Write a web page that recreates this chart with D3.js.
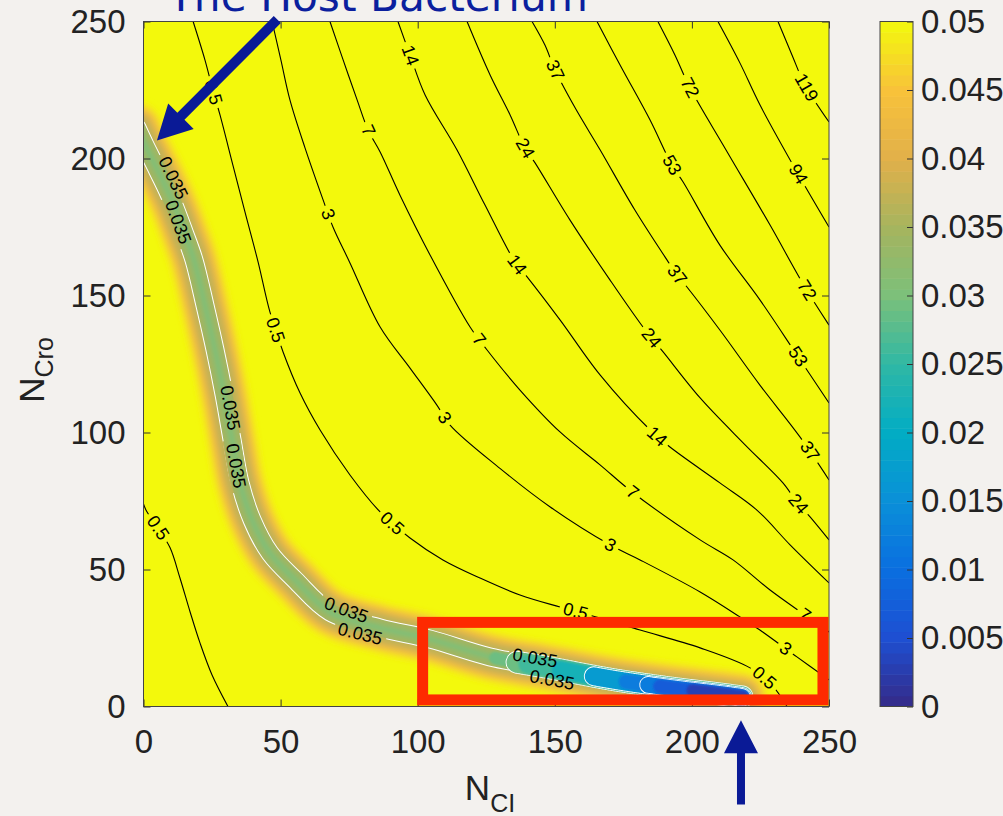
<!DOCTYPE html>
<html lang="en">
<head>
<meta charset="UTF-8">
<title>Landscape N_CI / N_Cro</title>
<style>
  body { margin: 0; background: #f3f1ee; }
  svg { display: block; font-family: "Liberation Sans", Arial, Helvetica, sans-serif; }
  .axis text { font-size: 33px; fill: #222; }
  .axis line { stroke: #333; }
  .axis path { display: none; }
  .clabel { font-size: 18px; fill: #000; }
</style>
</head>
<body>
<svg id="chart" width="1003" height="816"></svg>
<script src="https://d3js.org/d3.v7.min.js"></script>
<script>
// ---- data (data units) ----
const xTicks = [0, 50, 100, 150, 200, 250];
const yTicks = [0, 50, 100, 150, 200, 250];
const cbarTicks = [0, 0.005, 0.01, 0.015, 0.02, 0.025, 0.03, 0.035, 0.04, 0.045, 0.05];
const cbarLabels = ["0", "0.005", "0.01", "0.015", "0.02", "0.025", "0.03", "0.035", "0.04", "0.045", "0.05"];

// colormap as seen on the colour bar
const parulaDomain = [0, 0.005, 0.01, 0.015, 0.02, 0.025, 0.03, 0.035, 0.04, 0.045, 0.05];
const parulaStops = ["#352a87", "#1e4fd2", "#0a6ee0", "#0a90d8", "#02acc4", "#30b8a4",
                     "#7cc07a", "#a6b45e", "#e2b04a", "#f8c23a", "#f3f90c"];

// black contour lines of the landscape
const contourLevels = ["0.5", "3", "7", "14", "24", "37", "53", "72", "94", "119", "0.5"];
const contourLines = [
  [[18.1,250],[22.4,236.0],[25.3,225.0],[27.9,215.9],[32.6,197.6],[37.0,180.5],[41.8,162.2],[46.1,144.0],[50.9,129.4],[57.1,114.4],[64.4,100.9],[75.3,84.5],[86.3,71.0],[97.2,61.5],[109.2,53.5],[122.7,46.9],[137.3,40.7],[151.9,36.3],[166.5,32.3],[181.1,27.9],[203.0,21.4],[221.2,14.1],[229.2,7.8],[234.7,0]],
  [[46.9,250],[50.1,236.0],[53.4,221.4],[58.9,203.9],[65.5,184.9],[69.1,175.0],[75.3,161.9],[86.3,138.5],[97.2,123.5],[107.0,110.0],[111.8,102.7],[130.0,86.9],[148.2,72.9],[170.1,59.0],[181.1,53.5],[203.0,41.8],[217.5,32.7],[224.8,27.9],[238.3,18.1],[250,9.7]],
  [[68.0,250],[72.8,236.0],[77.9,221.4],[81.9,210.4],[86.3,202.4],[93.5,186.7],[104.5,164.8],[119.1,138.5],[125.3,130.1],[137.3,115.5],[151.9,100.2],[166.5,88.2],[178.2,78.3],[203.0,60.8],[215.0,53.5],[228.5,42.5],[241.2,33.4],[250,27.2]],
  [[92.8,250],[97.2,237.8],[102.7,223.2],[114.3,203.2],[124.5,183.1],[135.5,162.2],[139.9,156.8],[151.9,141.1],[166.5,121.0],[184.7,101.0],[192.0,94.7],[210.2,81.6],[223.7,71.7],[235.8,59.0],[250,45.1]],
  [[118.0,250],[126.4,230.5],[133.7,215.9],[139.1,203.9],[142.8,198.4],[155.5,177.6],[170.1,155.7],[182.9,137.5],[189.5,129.4],[203.0,112.6],[219.4,95.5],[233.2,81.6],[238.3,74.6],[243.1,69.2],[250,60.8]],
  [[141.7,250],[146.4,241.4],[150.1,232.3],[157.4,218.5],[166.5,203.2],[179.2,181.2],[190.9,163.0],[194.6,157.5],[198.2,153.1],[210.2,137.4],[224.8,117.3],[239.4,98.4],[250,82.7]],
  [[165.4,250],[173.8,234.1],[184.7,214.1],[192.7,197.6],[196.8,191.4],[210.2,168.4],[224.8,148.4],[238.3,128.3],[250,110.8]],
  [[187.6,250],[193.8,237.8],[199.3,225.8],[212.4,203.2],[228.5,175.7],[241.2,153.1],[250,139.2]],
  [[209.5,250],[217.5,234.9],[224.8,219.6],[238.3,195.1],[250,175.0]],
  [[231.4,250],[236.5,237.8],[241.2,226.9],[250,213.3]],
  [[-1.3,78.3],[0.9,71.7],[5.3,65.2],[9.7,57.9],[13.3,46.9],[17.0,34.5],[20.6,23.2],[25.0,11.5],[30.8,0]]
];
const contourLabelAt = [
  [[25.0,224.3],[48.0,137.5],[90.6,67.0],[157.4,34.5],[225.6,9.7]],
  [[68.0,180.1],[109.2,105.3],[170.1,59.0],[234.7,21.4]],
  [[81.9,210.4],[122.0,133.8],[178.2,78.3],[241.2,33.4]],
  [[97.2,237.8],[135.5,160.4],[187.3,98.4]],
  [[139.1,203.9],[184.7,133.8],[238.3,73.6]],
  [[150.1,232.3],[192.7,156.4],[243.1,93.6]],
  [[192.7,197.6],[238.3,127.2]],
  [[199.3,225.8],[241.9,152.0]],
  [[238.3,194.0]],
  [[241.2,225.8]],
  [[5.3,65.5]]
];

// valley floor (centre of the low band) and its 0.035 labels
const valleyLine = [[-2.4,211.2],[0.5,205.0],[4.2,197.6],[7.8,190.3],[11.1,183.0],[14.8,173.2],[18.4,163.0],[22.4,146.5],[26.1,130.1],[29.4,113.7],[32.3,97.3],[35.2,81.6],[39.6,68.1],[46.1,56.0],[55.3,46.2],[68.0,34.5],[86.2,28.7],[104.5,24.6],[126.4,18.1],[148.2,14.1],[170.1,10.0],[192.0,6.8],[210.2,4.6],[218.3,3.5]];
const valleyLabel = "0.035";
const valleyLabelAt = [[10.8,192.9],[12.6,176.8],[31.6,109.0],[33.7,87.8],[73.9,35.2],[79.0,26.5],[142.8,17.7],[149.0,9.7]];

// basin near the stable state: where each deeper level begins along the valley
const basinStart = [128, 140, 152, 164, 176, 188, 200];
const basinLevel = [0.029, 0.026, 0.022, 0.017, 0.012, 0.007, 0.003];
const whiteLoopStart = [136, 164, 184];

// annotations (data units)
const highlightBox = [[101.8, 2.4], [247.8, 30.7]];
const arrowHost = [[48.8, 250.7], [4.9, 206.6]];
const arrowLysis = [[217.9, -35.8], [217.9, -5.0]];
const titleText = "The Host Bacterium";

// ---- layout ----
const W = 1003, H = 816;
const plot = {left: 143.5, right: 829, top: 21.5, bottom: 706.5};
const cb = {left: 880, right: 913, top: 21.5, bottom: 706.5};

const x = d3.scaleLinear().domain([0, 250]).range([plot.left, plot.right]);
const y = d3.scaleLinear().domain([0, 250]).range([plot.bottom, plot.top]);
const cy = d3.scaleLinear().domain([0, 0.05]).range([cb.bottom, cb.top]);
const color = d3.scaleLinear().domain(parulaDomain).range(parulaStops).clamp(true);

const line = d3.line().x(d => x(d[0])).y(d => y(d[1])).curve(d3.curveCatmullRom.alpha(0.5));
const pxLine = d3.line();

const svg = d3.select("#chart");
const defs = svg.append("defs");
defs.append("clipPath").attr("id", "plotClip").append("rect")
    .attr("x", plot.left).attr("y", plot.top)
    .attr("width", plot.right - plot.left).attr("height", plot.bottom - plot.top);

function blur(id, sd) {
    defs.append("filter").attr("id", id)
        .attr("filterUnits", "userSpaceOnUse")
        .attr("x", 0).attr("y", 0).attr("width", W).attr("height", H)
        .append("feGaussianBlur").attr("stdDeviation", sd);
}
blur("soft", 3);
blur("softer", 1.2);

const mask = defs.append("mask").attr("id", "gaps")
    .attr("maskUnits", "userSpaceOnUse")
    .attr("x", 0).attr("y", 0).attr("width", W).attr("height", H);
mask.append("rect").attr("width", W).attr("height", H).attr("fill", "#fff");

const plotG = svg.append("g").attr("clip-path", "url(#plotClip)");
plotG.append("rect")
    .attr("x", plot.left).attr("y", plot.top)
    .attr("width", plot.right - plot.left).attr("height", plot.bottom - plot.top)
    .attr("fill", color(0.05));

function stroke(g, d, w, c) {
    return g.append("path").attr("d", d).attr("fill", "none")
        .attr("stroke", c).attr("stroke-width", w)
        .attr("stroke-linecap", "round").attr("stroke-linejoin", "round");
}

// valley band: halo fading from orange to yellow
const valleyD = line(valleyLine);
const glowG = plotG.append("g").attr("filter", "url(#soft)");
[[50, 0.048], [42, 0.0445], [35, 0.041], [28, 0.037]].forEach(([w, v]) => stroke(glowG, valleyD, w, color(v)));

// 0.035 white contour on both flanks, then the floor
const outline = stroke(plotG, valleyD, 19, "#fff").attr("mask", "url(#gaps)");
stroke(plotG, valleyD, 17, color(0.0345));
const coreG = plotG.append("g").attr("filter", "url(#softer)");
stroke(coreG, valleyD, 11, color(0.033));
stroke(coreG, valleyD, 5, color(0.0312));

// dense samples of the valley floor in pixels
const vNode = outline.node();
const vLen = vNode.getTotalLength();
const samples = d3.range(0, vLen, 1).concat([vLen]).map(l => {
    const p = vNode.getPointAtLength(l);
    return [p.x, p.y];
});
function subFrom(start) {
    return pxLine(samples.filter(p => x.invert(p[0]) >= start));
}
const widthAt = s => s < whiteLoopStart[0] ? 14 : 21 - (s - whiteLoopStart[0]) * 0.11;
const levelAt = s => {
    let v = basinLevel[0];
    basinStart.forEach((b, i) => { if (b <= s) v = basinLevel[i]; });
    return v;
};

// basin: nested deeper levels along the valley end, white loops as thin rings;
// the steps between rings are softened a little
const basinG = plotG.append("g");
const starts = [...new Set(basinStart.concat(whiteLoopStart))].sort((a, b) => a - b);
starts.forEach(s => {
    const w = widthAt(s);
    if (whiteLoopStart.includes(s)) {
        stroke(basinG, subFrom(s), w + 1.8, "#fff");
        stroke(basinG, subFrom(s), w, color(levelAt(s)));
    } else {
        stroke(basinG, subFrom(s), w - 1.5, color(levelAt(s))).attr("filter", "url(#softer)");
    }
});

// black contour lines
const contourG = plotG.append("g").attr("mask", "url(#gaps)");
const contourPaths = contourLines.map(pts =>
    stroke(contourG, line(pts), 1.1, "#000").attr("stroke-linecap", "butt"));

function nearest(node, px, py) {
    const total = node.getTotalLength();
    let best = 0, bd = Infinity;
    for (let l = 0; l <= total; l += 1.5) {
        const p = node.getPointAtLength(l);
        const d = (p.x - px) ** 2 + (p.y - py) ** 2;
        if (d < bd) { bd = d; best = l; }
    }
    const a = node.getPointAtLength(Math.max(0, best - 5));
    const b = node.getPointAtLength(Math.min(total, best + 5));
    let ang = Math.atan2(b.y - a.y, b.x - a.x) * 180 / Math.PI;
    if (ang > 90) ang -= 180;
    if (ang < -90) ang += 180;
    const p = node.getPointAtLength(best);
    return {x: p.x, y: p.y, ang};
}

const labelG = plotG.append("g");
function addLabel(txt, px, py, ang) {
    const t = labelG.append("text").attr("class", "clabel")
        .attr("text-anchor", "middle").attr("dominant-baseline", "central")
        .attr("transform", `translate(${px},${py}) rotate(${ang})`)
        .text(txt);
    const w = t.node().getComputedTextLength() + 8;
    mask.append("rect")
        .attr("x", -w / 2).attr("y", -9).attr("width", w).attr("height", 18)
        .attr("fill", "#000")
        .attr("transform", `translate(${px},${py}) rotate(${ang})`);
}

contourLabelAt.forEach((list, i) => {
    list.forEach(([dx, dy]) => {
        const p = nearest(contourPaths[i].node(), x(dx), y(dy));
        addLabel(contourLevels[i], p.x, p.y, p.ang);
    });
});
valleyLabelAt.forEach(([dx, dy]) => {
    const p = nearest(vNode, x(dx), y(dy));
    addLabel(valleyLabel, x(dx), y(dy), p.ang);
});

// ---- axes ----
const axG = svg.append("g");
axG.append("g").attr("class", "axis").attr("transform", `translate(0,${plot.bottom})`)
    .call(d3.axisBottom(x).tickValues(xTicks).tickSize(-7).tickPadding(23));
axG.append("g").attr("class", "axis").attr("transform", `translate(${plot.left},0)`)
    .call(d3.axisLeft(y).tickValues(yTicks).tickSize(-7).tickPadding(18));
axG.append("g").attr("class", "axis").attr("transform", `translate(0,${plot.top})`)
    .call(d3.axisTop(x).tickValues(xTicks).tickSize(-7).tickFormat(""));
axG.append("g").attr("class", "axis").attr("transform", `translate(${plot.right},0)`)
    .call(d3.axisRight(y).tickValues(yTicks).tickSize(-7).tickFormat(""));
axG.append("rect")
    .attr("x", plot.left).attr("y", plot.top)
    .attr("width", plot.right - plot.left).attr("height", plot.bottom - plot.top)
    .attr("fill", "none").attr("stroke", "#444").attr("stroke-width", 1);

// axis titles
const xt = svg.append("text").attr("x", 490).attr("y", 800)
    .attr("text-anchor", "middle").attr("fill", "#222");
xt.append("tspan").attr("font-size", 35).text("N");
xt.append("tspan").attr("font-size", 25).attr("dy", 12).text("CI");

const yt = svg.append("text").attr("transform", "translate(44,370) rotate(-90)")
    .attr("text-anchor", "middle").attr("fill", "#222");
yt.append("tspan").attr("font-size", 35).text("N");
yt.append("tspan").attr("font-size", 25).attr("dy", 9).text("Cro");

// ---- colour bar ----
const nBands = 64;
const cbG = svg.append("g");
cbG.selectAll("rect.band").data(d3.range(nBands)).join("rect")
    .attr("class", "band")
    .attr("x", cb.left).attr("width", cb.right - cb.left)
    .attr("y", i => cy((i + 1) * 0.05 / nBands))
    .attr("height", i => cy(i * 0.05 / nBands) - cy((i + 1) * 0.05 / nBands) + 0.5)
    .attr("fill", i => color((i + 0.5) * 0.05 / nBands));
cbG.append("g").attr("class", "axis").attr("transform", `translate(${cb.right},0)`)
    .call(d3.axisRight(cy).tickValues(cbarTicks).tickSize(-6).tickPadding(8)
        .tickFormat((d, i) => cbarLabels[i]));
cbG.append("rect")
    .attr("x", cb.left).attr("y", cb.top)
    .attr("width", cb.right - cb.left).attr("height", cb.bottom - cb.top)
    .attr("fill", "none").attr("stroke", "#444").attr("stroke-width", 1);

// ---- annotations ----
const annG = svg.append("g");
annG.append("rect")
    .attr("x", x(highlightBox[0][0])).attr("y", y(highlightBox[1][1]))
    .attr("width", x(highlightBox[1][0]) - x(highlightBox[0][0]))
    .attr("height", y(highlightBox[0][1]) - y(highlightBox[1][1]))
    .attr("fill", "none").attr("stroke", "#fe2a00").attr("stroke-width", 11);

function arrow(from, to, shaft, headLen, headW) {
    const x0 = x(from[0]), y0 = y(from[1]), x1 = x(to[0]), y1 = y(to[1]);
    const L = Math.hypot(x1 - x0, y1 - y0), ux = (x1 - x0) / L, uy = (y1 - y0) / L;
    const nx = -uy, ny = ux;
    const bx = x1 - ux * headLen, by = y1 - uy * headLen;
    const pts = [
        [x0 + nx * shaft / 2, y0 + ny * shaft / 2],
        [bx + nx * shaft / 2, by + ny * shaft / 2],
        [bx + nx * headW / 2, by + ny * headW / 2],
        [x1, y1],
        [bx - nx * headW / 2, by - ny * headW / 2],
        [bx - nx * shaft / 2, by - ny * shaft / 2],
        [x0 - nx * shaft / 2, y0 - ny * shaft / 2]
    ];
    annG.append("path").attr("d", "M" + pts.join("L") + "Z").attr("fill", "#0a1a96");
}
arrow(arrowHost[0], arrowHost[1], 10, 34, 36);
arrow(arrowLysis[0], arrowLysis[1], 8, 33, 34);

// title sits partly above the top edge, as in the picture
annG.append("text").attr("x", 168).attr("y", 11)
    .attr("font-family", "'DejaVu Sans', sans-serif").attr("font-size", 42)
    .attr("fill", "#0b1f9e")
    .attr("textLength", 420).attr("lengthAdjust", "spacingAndGlyphs")
    .text(titleText);
</script>
</body>
</html>
